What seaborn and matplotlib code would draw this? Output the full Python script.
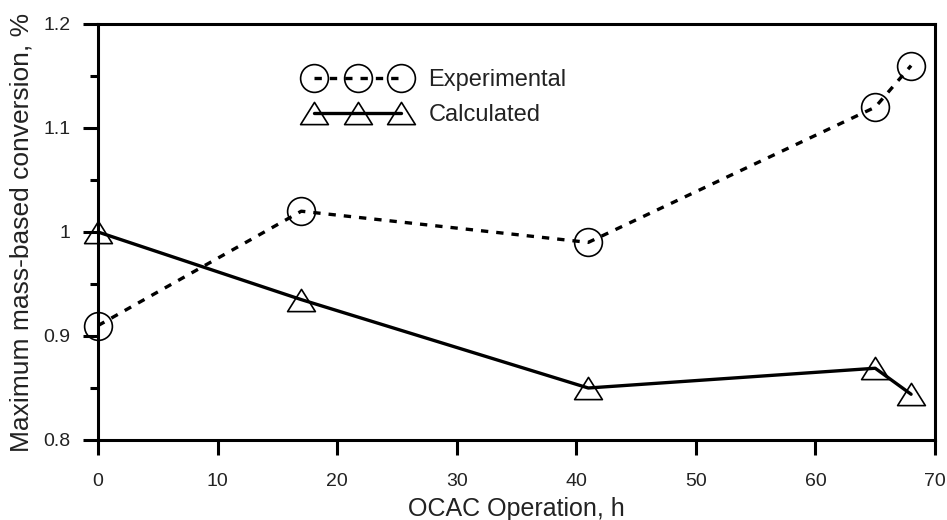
import numpy as np
import pandas as pd
import seaborn as sns
import matplotlib
matplotlib.use("Agg")
import matplotlib.pyplot as plt
from matplotlib.path import Path
from matplotlib.ticker import MultipleLocator

# values
hours = [0, 17, 41, 65, 68]
experimental = [0.91, 1.02, 0.99, 1.12, 1.16]
calculated = [1.0, 0.935, 0.85, 0.869, 0.844]

sns.set_theme(style="ticks")
plt.rcParams["font.family"] = ["Liberation Sans", "DejaVu Sans"]

fig = plt.figure(figsize=(9.47, 5.2), dpi=100)
ax = fig.add_axes([98 / 947, 1 - 440 / 520, (935 - 98) / 947, (440 - 24) / 520])

# flat open triangle
tri = Path([(-1, -0.8), (1, -0.8), (0, 0.8), (-1, -0.8)], closed=True)

sns.lineplot(x=hours, y=experimental, ax=ax, color="black", lw=2.4,
             marker="o", markersize=20, mfc="none", mec="black", mew=1.2,
             label="Experimental", clip_on=False)
sns.lineplot(x=hours, y=calculated, ax=ax, color="black", lw=2.4,
             marker=tri, markersize=20, mfc="none", mec="black", mew=1.2,
             label="Calculated", clip_on=False)
ax.lines[0].set_dashes((2.2, 2.4))

ax.set_xlim(0, 70)
ax.set_ylim(0.8, 1.2)
ax.xaxis.set_major_locator(MultipleLocator(10))
ax.yaxis.set_minor_locator(MultipleLocator(0.05))
ax.set_yticks([0.8, 0.9, 1.0, 1.1, 1.2])
ax.set_yticklabels(["0.8", "0.9", "1", "1.1", "1.2"])

for s in ax.spines.values():
    s.set_linewidth(2.2)
    s.set_color("black")
ax.tick_params(axis="both", which="major", direction="out", length=11, width=2.2,
               labelsize=14, color="black", labelcolor="#222222")
ax.tick_params(axis="x", pad=13)
ax.tick_params(axis="y", pad=9)
ax.tick_params(axis="y", which="minor", direction="out", length=6, width=2.2, color="black")

ax.set_xlabel("OCAC Operation, h", fontsize=18, color="#222222", labelpad=5)
ax.set_ylabel("Maximum mass-based conversion, %", fontsize=19, color="#222222", labelpad=7)

leg = ax.legend(numpoints=3, frameon=False, fontsize=17, handlelength=4.3,
                handletextpad=0.85, labelspacing=0.55, borderpad=0, borderaxespad=0,
                loc="upper left", bbox_to_anchor=(307 / 947, 1 - 69 / 520),
                bbox_transform=fig.transFigure)
for t in leg.get_texts():
    t.set_color("#222222")

fig.savefig("out.png", dpi=100)
